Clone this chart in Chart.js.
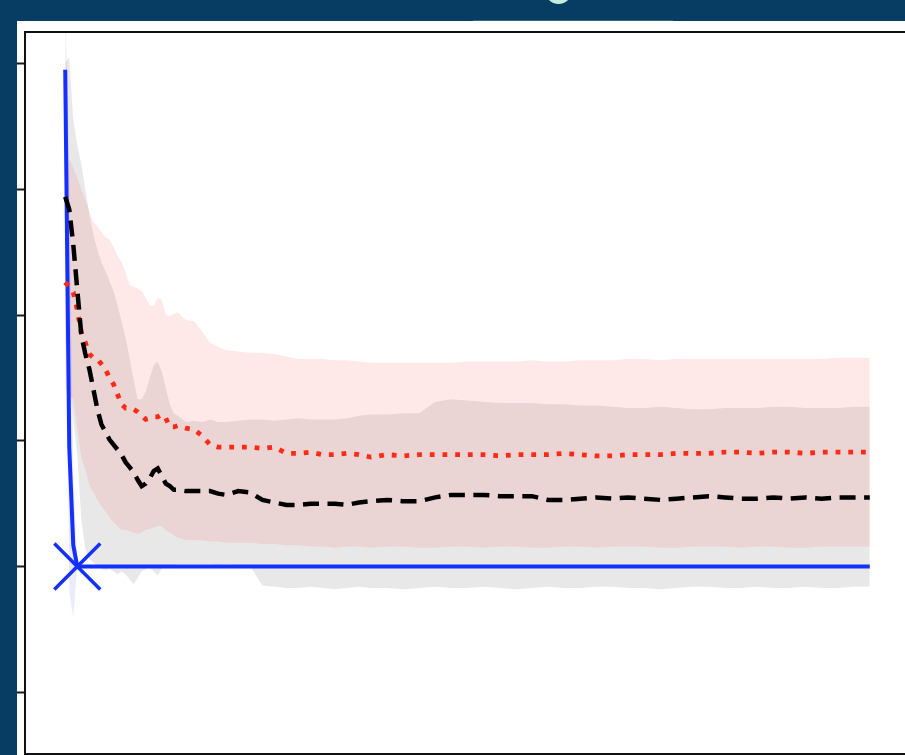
<!DOCTYPE html>
<html>
<head>
<meta charset="utf-8">
<script src="https://cdn.jsdelivr.net/npm/chart.js"></script>
<style>
  html, body { margin: 0; padding: 0; overflow: hidden; background: #083d63; width: 905px; height: 755px; }
  #panel { position: absolute; left: 17px; top: 21px; width: 900px; height: 740px; background: #ffffff; }
  #tabEdge { position: absolute; left: 473px; top: 20px; width: 200px; height: 1px; background: #3a6486; }
  #badge { position: absolute; left: 545px; top: -23px; width: 27px; height: 27px; border-radius: 50%; background: #c4ebe1; }
  #plot { position: absolute; left: 0; top: 0; }
</style>
</head>
<body>
<div id="panel"></div>
<div id="tabEdge"></div>
<div id="badge"></div>
<canvas id="plot" width="930" height="780"></canvas>
<script>
// Training iterations (denser sampling during the initial drop)
const iterations = [0,1,2,3,4,5,6,7,8,9,10,11,12,13,14,15,16,17,18,19,20,21,22,23,24,25,26,27,28,
  30,32,34,36,38,40,
  43,46,49,52,55,58,61,64,67,70,73,76,
  80,84,88,92,96,100,104,108,112,116,120,124,128,132,136,140,144,148,152,156,160,164,168,172,176,180,184,188,192,196,200];

// Baseline (solid blue) mean and spread
const blueMean = [3.95,0.95,0.17,0,0,0,0,0,0,0,
  0,0,0,0,0,0,0,0,0,0,
  0,0,0,0,0,0,0,0,0,
  0,0,0,0,0,0,
  0,0,0,0,0,0,0,0,0,0,0,0,
  0,0,0,0,0,0,0,0,0,0,0,0,0,0,0,0,0,0,0,0,0,0,0,0,0,0,0,0,0,0,0];
const blueHigh = [4.50,3.20,0.75,0,0,0,0,0,0,0,
  0,0,0,0,0,0,0,0,0,0,
  0,0,0,0,0,0,0,0,0,
  0,0,0,0,0,0,
  0,0,0,0,0,0,0,0,0,0,0,0,
  0,0,0,0,0,0,0,0,0,0,0,0,0,0,0,0,0,0,0,0,0,0,0,0,0,0,0,0,0,0,0];
const blueLow = [3.40,-0.20,-0.41,0,0,0,0,0,0,0,
  0,0,0,0,0,0,0,0,0,0,
  0,0,0,0,0,0,0,0,0,
  0,0,0,0,0,0,
  0,0,0,0,0,0,0,0,0,0,0,0,
  0,0,0,0,0,0,0,0,0,0,0,0,0,0,0,0,0,0,0,0,0,0,0,0,0,0,0,0,0,0,0];

// Dashed black series: mean and band
const blackMean = [2.94,2.84,2.56,2.20,1.84,1.69,1.57,1.41,1.25,1.13,
  1.07,1.01,0.97,0.93,0.89,0.83,0.79,0.75,0.69,0.64,
  0.66,0.70,0.76,0.78,0.72,0.66,0.64,0.61,0.61,
  0.60,0.60,0.60,0.60,0.58,0.57,
  0.60,0.59,0.53,0.51,0.49,0.49,0.50,0.50,0.50,0.49,0.51,0.52,
  0.53,0.52,0.52,0.55,0.57,0.57,0.57,0.56,0.56,0.56,0.53,0.53,0.54,0.55,0.54,0.55,0.54,0.53,0.54,0.55,0.56,0.55,0.54,0.54,0.55,0.54,0.55,0.54,0.55,0.55,0.55];
const blackHigh = [4.01,4.05,3.55,3.35,3.20,3.00,2.80,2.64,2.52,2.42,
  2.35,2.27,2.19,2.08,1.95,1.82,1.66,1.49,1.33,1.33,
  1.39,1.50,1.60,1.63,1.55,1.42,1.29,1.22,1.20,
  1.15,1.16,1.15,1.17,1.15,1.15,
  1.16,1.17,1.17,1.16,1.17,1.18,1.17,1.17,1.17,1.18,1.20,1.21,
  1.21,1.22,1.22,1.31,1.33,1.32,1.31,1.30,1.30,1.30,1.29,1.29,1.28,1.28,1.27,1.26,1.26,1.27,1.26,1.25,1.25,1.26,1.26,1.26,1.27,1.27,1.26,1.26,1.26,1.27,1.27];
const blackLow = [1.80,1.49,1.17,0.89,0.37,0.14,0.06,0.03,0.01,-0.02,
  -0.03,-0.02,-0.04,-0.06,-0.04,-0.06,-0.10,-0.14,-0.09,-0.04,
  -0.02,-0.01,-0.04,-0.07,-0.02,0.00,0.01,0.01,0.02,
  0.02,0.02,0.02,0.02,0.01,0.02,
  0.01,0.00,-0.15,-0.16,-0.17,-0.17,-0.16,-0.17,-0.18,-0.17,-0.16,-0.17,
  -0.17,-0.18,-0.17,-0.16,-0.17,-0.17,-0.16,-0.17,-0.18,-0.17,-0.16,-0.17,-0.17,-0.16,-0.16,-0.17,-0.17,-0.18,-0.17,-0.16,-0.16,-0.17,-0.17,-0.16,-0.17,-0.17,-0.16,-0.17,-0.17,-0.16,-0.16];

// Dotted red series: mean and band
const redMean = [2.26,2.22,2.18,2.04,1.86,1.78,1.69,1.66,1.65,1.61,
  1.57,1.50,1.45,1.37,1.29,1.26,1.26,1.25,1.23,1.20,
  1.17,1.18,1.19,1.19,1.21,1.18,1.11,1.11,1.12,
  1.10,1.09,1.04,0.97,0.95,0.95,
  0.95,0.95,0.94,0.95,0.90,0.90,0.91,0.89,0.89,0.90,0.89,0.87,
  0.89,0.88,0.89,0.89,0.89,0.89,0.89,0.88,0.89,0.89,0.89,0.90,0.89,0.88,0.88,0.89,0.89,0.89,0.90,0.90,0.90,0.91,0.91,0.90,0.91,0.91,0.90,0.91,0.91,0.91,0.91];
const redHigh = [3.12,3.24,3.17,3.09,3.00,2.92,2.82,2.74,2.70,2.66,
  2.62,2.60,2.54,2.47,2.42,2.34,2.24,2.22,2.21,2.19,
  2.14,2.08,2.07,2.14,2.12,2.00,1.99,2.01,2.02,
  1.96,1.95,1.87,1.78,1.75,1.72,
  1.71,1.70,1.70,1.69,1.67,1.65,1.65,1.65,1.64,1.64,1.63,1.62,
  1.62,1.62,1.62,1.62,1.62,1.63,1.63,1.63,1.63,1.64,1.63,1.63,1.64,1.64,1.64,1.65,1.65,1.64,1.65,1.65,1.65,1.65,1.65,1.65,1.65,1.65,1.65,1.65,1.66,1.66,1.66];
const redLow = [1.41,1.37,1.33,1.09,0.87,0.77,0.65,0.59,0.53,0.48,
  0.44,0.39,0.35,0.32,0.29,0.29,0.28,0.27,0.26,0.27,
  0.29,0.30,0.31,0.32,0.32,0.29,0.27,0.25,0.23,
  0.21,0.21,0.21,0.20,0.20,0.19,
  0.19,0.19,0.18,0.18,0.17,0.17,0.16,0.16,0.15,0.16,0.16,0.15,
  0.16,0.16,0.15,0.15,0.16,0.16,0.15,0.16,0.16,0.15,0.15,0.16,0.16,0.15,0.16,0.16,0.16,0.15,0.15,0.16,0.16,0.16,0.15,0.16,0.16,0.15,0.15,0.16,0.16,0.16,0.16];

// Y axis tick values and the step where the baseline settles (marked with an x)
const yTicks = [-1, 0, 1, 2, 3, 4];
const markerStep = 3;

const markerIndex = iterations.indexOf(markerStep);
const pts = arr => iterations.map((s, i) => ({ x: s, y: arr[i] }));

const band = (hi, lo, color, order) => [
  { data: pts(hi), fill: '+1', backgroundColor: color, borderWidth: 0, pointRadius: 0, order: order },
  { data: pts(lo), fill: false, borderWidth: 0, pointRadius: 0, order: order }
];

const frame = {
  id: 'frame',
  afterDatasetsDraw(chart) {
    const { ctx, chartArea: a } = chart;
    ctx.save();
    ctx.strokeStyle = '#111111';
    ctx.lineWidth = 2;
    ctx.strokeRect(a.left, a.top, a.right - a.left, a.bottom - a.top);
    ctx.restore();
  }
};

new Chart(document.getElementById('plot'), {
  type: 'line',
  data: {
    datasets: [
      ...band(blackHigh, blackLow, 'rgba(0,0,0,0.09)', 6),
      ...band(redHigh, redLow, 'rgba(255,0,0,0.09)', 5),
      ...band(blueHigh, blueLow, 'rgba(0,0,255,0.08)', 4),
      {
        data: pts(blueMean), borderColor: '#1430ff', borderWidth: 4, fill: false, order: 3,
        pointStyle: 'crossRot',
        pointRadius: c => (c.dataIndex === markerIndex ? 32.5 : 0),
        pointBorderWidth: 3.5, pointBorderColor: '#1430ff', pointBackgroundColor: '#1430ff'
      },
      {
        data: pts(redMean), borderColor: '#ff2a14', borderWidth: 4.8, borderDash: [4.8, 7.9],
        fill: false, pointRadius: 0, order: 2
      },
      {
        data: pts(blackMean), borderColor: '#000000', borderWidth: 4.5, borderDash: [16, 8.5],
        fill: false, pointRadius: 0, order: 1
      }
    ]
  },
  options: {
    responsive: false,
    animation: false,
    events: [],
    devicePixelRatio: 1,
    layout: { padding: { left: 0, top: 32, right: 20, bottom: 26 } },
    elements: { line: { tension: 0 } },
    plugins: { legend: { display: false }, tooltip: { enabled: false } },
    scales: {
      x: { type: 'linear', min: -10, max: 210, display: false },
      y: {
        type: 'linear', min: -1.49, max: 4.25,
        ticks: { display: false },
        grid: { drawOnChartArea: false, drawTicks: true, tickLength: 8, tickColor: '#1a1a1a', tickWidth: 2 },
        border: { display: false },
        afterBuildTicks: s => { s.ticks = yTicks.map(v => ({ value: v })); },
        afterFit: s => { s.width = 25; }
      }
    }
  },
  plugins: [frame]
});
</script>
</body>
</html>
